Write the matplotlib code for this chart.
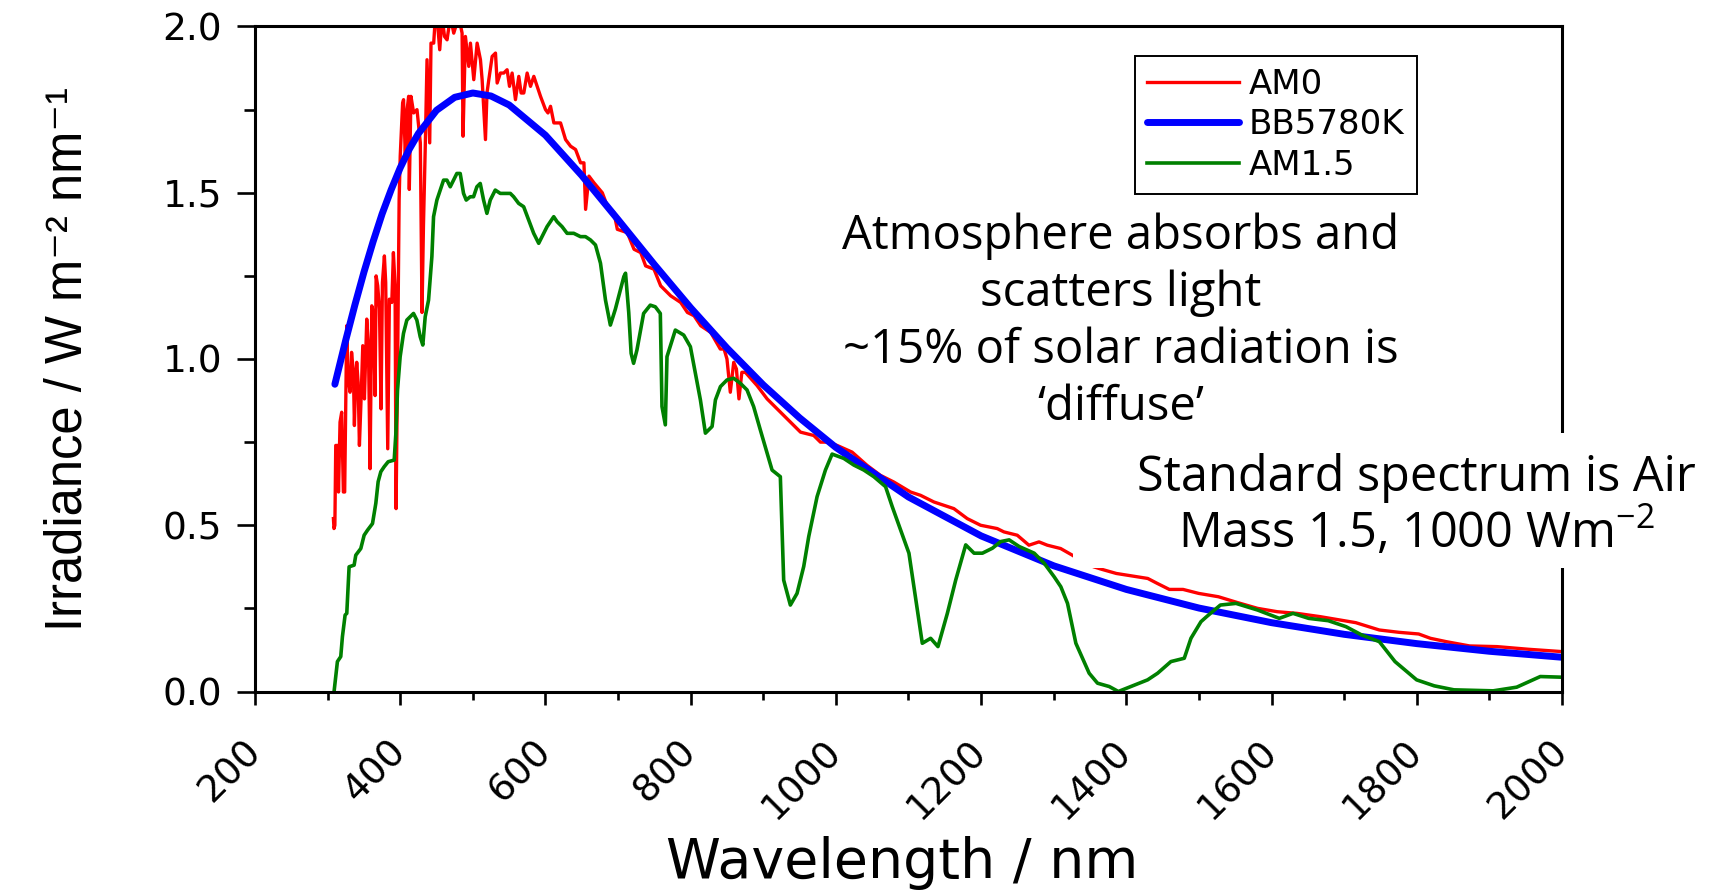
import numpy as np
import matplotlib
matplotlib.use("Agg")
import matplotlib.pyplot as plt
from matplotlib.patches import Rectangle
from matplotlib.ticker import MultipleLocator, FormatStrFormatter

# AM0 extraterrestrial spectrum: (wavelength nm, irradiance W m-2 nm-1)
am0 = [
    (308.0, 0.52), (308.8, 0.49), (310.0, 0.50), (311.2, 0.74), (313.9, 0.74), (315.0, 0.60),
    (317.1, 0.81), (319.4, 0.84), (321.7, 0.60), (323.5, 0.60), (326.3, 1.10), (328.0, 0.95),
    (330.9, 0.90), (333.0, 1.02), (335.5, 0.96), (336.9, 0.80), (338.5, 0.93), (340.1, 0.99),
    (342.0, 0.93), (343.8, 0.74), (346.1, 0.88), (348.4, 1.04), (350.7, 0.88), (353.9, 1.12),
    (356.2, 1.04), (358.5, 0.67), (360.8, 1.16), (362.9, 1.14), (365.4, 0.89), (366.8, 1.25),
    (369.0, 1.22), (371.4, 1.15), (373.6, 0.85), (375.5, 1.23), (378.2, 1.31), (380.0, 1.23),
    (382.8, 0.73), (385.1, 1.18), (388.4, 1.17), (390.6, 1.32), (392.9, 1.22), (394.3, 0.55),
    (396.6, 1.03), (398.5, 1.48), (400.0, 1.61), (403.3, 1.77), (404.6, 1.78), (407.0, 1.61),
    (409.0, 1.74), (411.6, 1.79), (412.5, 1.51), (414.8, 1.79), (418.5, 1.74), (423.1, 1.75),
    (427.7, 1.65), (430.0, 1.14), (432.0, 1.40), (434.6, 1.65), (436.9, 1.90), (440.6, 1.65),
    (442.4, 1.95), (446.1, 1.95), (448.4, 2.03), (450.7, 2.03), (454.4, 1.93), (457.6, 2.03),
    (461.0, 1.97), (464.5, 1.96), (469.1, 2.03), (473.7, 1.98), (480.6, 2.03), (485.2, 1.98),
    (486.5, 1.67), (489.8, 1.97), (494.4, 1.88), (496.7, 1.95), (501.3, 1.84), (505.9, 1.95),
    (510.5, 1.90), (512.8, 1.84), (517.4, 1.66), (519.5, 1.80), (522.0, 1.84), (526.6, 1.91),
    (531.2, 1.92), (533.5, 1.83), (538.0, 1.86), (542.6, 1.86), (547.2, 1.87), (550.5, 1.82),
    (554.1, 1.86), (558.7, 1.78), (563.3, 1.85), (566.5, 1.80), (570.2, 1.80), (574.8, 1.86),
    (579.4, 1.82), (584.0, 1.85), (588.6, 1.82), (593.2, 1.79), (600.1, 1.75), (603.5, 1.74),
    (607.0, 1.76), (611.6, 1.71), (620.8, 1.71), (627.7, 1.66), (634.6, 1.64), (641.5, 1.63),
    (648.4, 1.59), (653.0, 1.59), (655.3, 1.45), (659.9, 1.55), (666.8, 1.53), (678.3, 1.50),
    (685.2, 1.46), (694.4, 1.44), (699.0, 1.39), (712.8, 1.38), (722.0, 1.33), (731.2, 1.32),
    (738.0, 1.28), (749.5, 1.27), (758.7, 1.22), (772.5, 1.19), (786.3, 1.17), (795.5, 1.14),
    (804.7, 1.13), (813.9, 1.10), (827.6, 1.08), (840.8, 1.03), (846.0, 1.03), (850.0, 1.00),
    (854.6, 0.90), (859.3, 0.99), (863.0, 0.97), (866.5, 0.88), (870.5, 0.96), (875.3, 0.96),
    (891.5, 0.92), (905.3, 0.88), (923.7, 0.84), (937.5, 0.81), (951.3, 0.78), (969.5, 0.77),
    (978.7, 0.75), (987.9, 0.75), (1001.7, 0.74), (1022.3, 0.72), (1043.0, 0.68), (1061.4, 0.65),
    (1079.8, 0.63), (1102.8, 0.60), (1116.6, 0.59), (1135.0, 0.57), (1162.5, 0.55), (1180.9, 0.52),
    (1199.3, 0.50), (1222.2, 0.49), (1231.4, 0.48), (1249.8, 0.47), (1265.9, 0.44), (1279.7, 0.45),
    (1291.2, 0.44), (1309.5, 0.43), (1325.6, 0.41), (1340.0, 0.39), (1355.0, 0.375), (1366.9, 0.367),
    (1386.2, 0.355), (1429.5, 0.34), (1442.7, 0.325), (1459.2, 0.307), (1478.1, 0.307), (1499.7, 0.295),
    (1526.8, 0.285), (1553.8, 0.267), (1580.8, 0.25), (1607.8, 0.24), (1635.0, 0.235), (1667.3, 0.225),
    (1716.0, 0.207), (1748.4, 0.185), (1775.5, 0.178), (1802.6, 0.173), (1818.8, 0.16), (1840.4, 0.15),
    (1872.8, 0.137), (1910.6, 0.135), (1953.8, 0.127), (2000.0, 0.12),
]

# 5780 K black body, scaled to the AM0 level
bb5780 = [
    (310, 0.924), (325, 1.057), (337.5, 1.162), (350, 1.261), (362.5, 1.352), (375, 1.436),
    (387.5, 1.509), (400, 1.575), (412.5, 1.631), (425, 1.678), (450, 1.748), (475, 1.787),
    (500, 1.800), (525, 1.791), (550, 1.764), (600, 1.673), (650, 1.552), (700, 1.419),
    (750, 1.284), (800, 1.154), (850, 1.033), (900, 0.922), (950, 0.823), (1000, 0.734),
    (1100, 0.585), (1200, 0.468), (1300, 0.378), (1400, 0.307), (1500, 0.251), (1600, 0.207),
    (1700, 0.172), (1800, 0.144), (1900, 0.121), (2000, 0.103),
]

# AM1.5 terrestrial spectrum
am15 = [
    (308.9, 0.0), (313.5, 0.09), (318.1, 0.105), (320.4, 0.165), (324.1, 0.23), (326.4, 0.235),
    (329.6, 0.375), (336.5, 0.38), (338.8, 0.41), (345.7, 0.43), (350.3, 0.47), (354.9, 0.485),
    (361.8, 0.505), (364.1, 0.536), (366.4, 0.566), (369.6, 0.631), (373.3, 0.661), (377.9, 0.676),
    (383.4, 0.691), (391.7, 0.696), (394.0, 0.776), (396.3, 0.907), (399.9, 1.007), (404.5, 1.077),
    (409.1, 1.117), (418.3, 1.137), (422.9, 1.117), (427.5, 1.067), (431.1, 1.042), (434.4, 1.127),
    (439.0, 1.177), (443.6, 1.308), (445.9, 1.428), (450.5, 1.478), (455.1, 1.508), (459.7, 1.538),
    (464.3, 1.538), (468.9, 1.518), (473.4, 1.538), (478.0, 1.558), (482.6, 1.558), (487.2, 1.498),
    (490.9, 1.478), (496.4, 1.488), (501.0, 1.488), (505.6, 1.518), (510.2, 1.528), (514.8, 1.478),
    (519.4, 1.438), (524.0, 1.478), (530.9, 1.508), (537.8, 1.498), (551.6, 1.498), (556.2, 1.488),
    (563.1, 1.468), (570.0, 1.458), (576.9, 1.418), (583.8, 1.378), (590.7, 1.348), (597.6, 1.378),
    (602.2, 1.398), (611.4, 1.428), (616.0, 1.413), (622.9, 1.398), (629.8, 1.378), (639.0, 1.378),
    (648.2, 1.368), (655.1, 1.368), (662.0, 1.358), (668.9, 1.343), (675.8, 1.288), (682.7, 1.177),
    (689.4, 1.102), (696.3, 1.150), (708.0, 1.248), (710.3, 1.258), (714.7, 1.140), (718.0, 1.017),
    (721.4, 0.987), (726.0, 1.027), (735.2, 1.137), (744.4, 1.162), (751.3, 1.157), (758.2, 1.137),
    (760.5, 0.857), (765.1, 0.802), (767.4, 1.007), (778.9, 1.087), (790.4, 1.072), (799.6, 1.037),
    (813.4, 0.877), (820.3, 0.777), (829.5, 0.797), (834.1, 0.877), (841.0, 0.917), (850.0, 0.937),
    (859.2, 0.942), (868.4, 0.927), (877.6, 0.907), (886.7, 0.857), (895.9, 0.787), (912.1, 0.666),
    (923.5, 0.646), (928.1, 0.335), (937.3, 0.26), (946.5, 0.295), (955.7, 0.376), (962.6, 0.466),
    (974.1, 0.586), (985.6, 0.666), (994.8, 0.714), (1010.9, 0.701), (1024.7, 0.681), (1038.5, 0.666),
    (1052.3, 0.646), (1068.4, 0.616), (1077.6, 0.556), (1089.1, 0.486), (1100.6, 0.416), (1107.5, 0.315),
    (1119.0, 0.145), (1130.5, 0.160), (1140.6, 0.135), (1153.5, 0.235), (1165.0, 0.335), (1178.8, 0.441),
    (1190.3, 0.416), (1201.8, 0.416), (1215.6, 0.431), (1227.1, 0.451), (1238.6, 0.456), (1252.4, 0.436),
    (1273.1, 0.416), (1286.8, 0.386), (1300.6, 0.345), (1309.8, 0.315), (1319.0, 0.265), (1330.5, 0.145),
    (1348.8, 0.055), (1360.3, 0.025), (1376.4, 0.015), (1389.0, 0.0), (1406.3, 0.015), (1429.3, 0.035),
    (1443.1, 0.055), (1461.4, 0.09), (1479.8, 0.10), (1489.0, 0.16), (1502.8, 0.21), (1510.5, 0.225),
    (1529.5, 0.26), (1551.0, 0.265), (1580.8, 0.245), (1610.6, 0.22), (1629.5, 0.235), (1651.1, 0.22),
    (1678.1, 0.213), (1702.5, 0.195), (1724.1, 0.17), (1748.4, 0.15), (1770.0, 0.09), (1799.8, 0.035),
    (1824.1, 0.017), (1851.2, 0.005), (1905.2, 0.002), (1937.6, 0.013), (1970.1, 0.045), (2000.0, 0.043),
]

note_lines = ["Atmosphere absorbs and", "scatters light",
              "~15% of solar radiation is", "\u2018diffuse\u2019"]
std_lines = ["Standard spectrum is Air", "Mass 1.5, 1000 Wm$^{-2}$"]

plt.rcParams['font.family'] = ['DejaVu Sans']
plt.rcParams['mathtext.default'] = 'regular'
plt.rcParams['axes.linewidth'] = 2.2

W, H = 1715, 891
fig = plt.figure(figsize=(W / 100, H / 100), dpi=100)
ax = fig.add_axes([255 / W, 1 - 691.5 / H, 1307 / W, 665 / H])

a = np.array(am0)
b = np.array(bb5780)
g = np.array(am15)
ax.plot(a[:, 0], a[:, 1], color='#ff0000', lw=2.4, label='AM0')
ax.plot(b[:, 0], b[:, 1], color='#0000ff', lw=5.0, label='BB5780K', solid_capstyle='round')
ax.plot(g[:, 0], g[:, 1], color='#008000', lw=2.6, label='AM1.5')

ax.set_xlim(200, 2000)
ax.set_ylim(0, 2.0)
ax.xaxis.set_major_locator(MultipleLocator(200))
ax.xaxis.set_minor_locator(MultipleLocator(100))
ax.yaxis.set_major_locator(MultipleLocator(0.5))
ax.yaxis.set_minor_locator(MultipleLocator(0.25))
ax.yaxis.set_major_formatter(FormatStrFormatter('%.1f'))

ax.tick_params(which='both', direction='out', width=1.9, labelsize=27)
ax.tick_params(axis='x', which='major', length=9.5, pad=30)
ax.tick_params(axis='x', which='minor', length=5.5)
ax.tick_params(axis='y', which='major', length=13, pad=10.5)
ax.tick_params(axis='y', which='minor', length=8)
for lab in ax.get_xticklabels():
    lab.set_rotation(45)
    lab.set_ha('right')
    lab.set_va('center')
    lab.set_rotation_mode('anchor')

ax.set_xlabel('Wavelength / nm', fontsize=40)
ax.xaxis.set_label_coords(0.495, -0.217)
ax.set_ylabel('Irradiance / W m\u207b\u00b2 nm\u207b\u00b9', fontsize=36.5,
              family=['Liberation Sans', 'DejaVu Sans'])
ax.yaxis.set_label_coords(-0.124, 0.5)

leg = ax.legend(loc='upper left', bbox_to_anchor=((1135 - 255) / 1307, (691.5 - 56) / 665),
                borderaxespad=0, fontsize=24.5, handlelength=2.7, handletextpad=0.3,
                borderpad=0.35, labelspacing=0.22, fancybox=False, framealpha=1)
leg.get_frame().set_edgecolor('black')
leg.get_frame().set_linewidth(1.4)

# annotation about atmospheric losses
for i, line in enumerate(note_lines):
    fig.text(1121 / W, 1 - (249 + 57 * i) / H, line, ha='center', va='baseline',
             fontsize=34, family='Open Sans', zorder=4)

# white text box for the standard spectrum note, sitting over the right spine
fig.add_artist(Rectangle((1073 / W, 1 - 568 / H), (W - 1073) / W, (568 - 433) / H,
                         transform=fig.transFigure, facecolor='white',
                         edgecolor='none', zorder=3))
for i, line in enumerate(std_lines):
    fig.text(1416 / W, 1 - (491 + 57 * i) / H, line, ha='center', va='baseline',
             fontsize=35, family='Open Sans', zorder=4)

fig.savefig('out.png', dpi=100)
